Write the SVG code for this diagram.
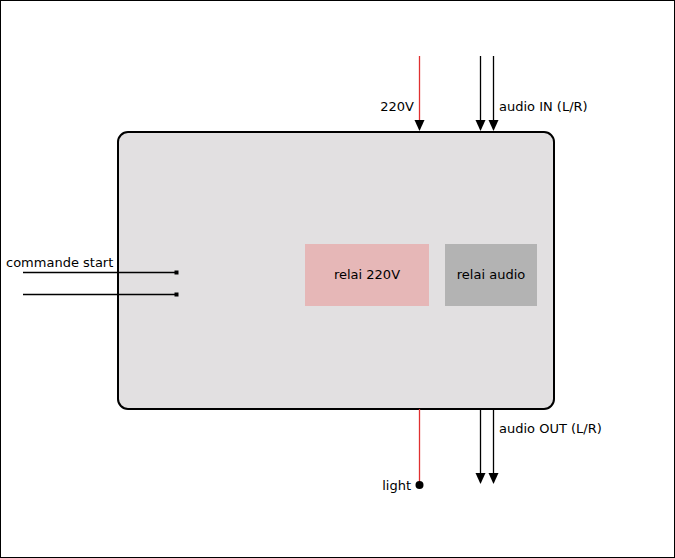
<svg xmlns="http://www.w3.org/2000/svg" width="675" height="558" viewBox="0 0 675 558">
<style>
text{font-family:"DejaVu Sans",sans-serif;font-size:13px;fill:#000}
.w{stroke:#000;stroke-width:1.3;fill:none}
.r{stroke:#e03030;stroke-width:1.3;fill:none}
</style>
<defs>
<marker id="ah" markerUnits="userSpaceOnUse" markerWidth="10" markerHeight="12" refX="5" refY="11" orient="auto-start-reverse" viewBox="0 0 10 12">
<path d="M0,0 L10,0 L5,11 Z" fill="#000" transform="rotate(0)"/>
</marker>
<marker id="sq" markerUnits="userSpaceOnUse" markerWidth="5" markerHeight="5" refX="2.5" refY="2.5" viewBox="0 0 5 5">
<rect x="0" y="0" width="5" height="5" fill="#000"/>
</marker>
</defs>
<rect x="0.5" y="0.5" width="674" height="557" fill="#fff" stroke="#000" stroke-width="1"/>
<g id="box">
<rect x="118" y="132" width="436" height="277" rx="10" fill="#e2e0e1" stroke="#000" stroke-width="2"/>
</g>
<g id="relai220">
<rect x="305" y="244" width="124" height="62" fill="#e6b7b7"/>
<text x="367" y="279" text-anchor="middle">relai 220V</text>
</g>
<g id="relaiaudio">
<rect x="445" y="244" width="92" height="62" fill="#b3b3b3"/>
<text x="491" y="279" text-anchor="middle">relai audio</text>
</g>
<g id="connectors">
<path class="r" d="M419.5,56 V121"/>
<path d="M414.5,120 L424.5,120 L419.5,131 Z" fill="#000"/>
<path class="w" d="M480.5,56 V121"/>
<path d="M475.5,120 L485.5,120 L480.5,131 Z" fill="#000"/>
<path class="w" d="M493.5,56 V121"/>
<path d="M488.5,120 L498.5,120 L493.5,131 Z" fill="#000"/>
<path class="r" d="M419.5,409 V485"/>
<circle cx="419.5" cy="485" r="4" fill="#000"/>
<path class="w" d="M480.5,409 V474"/>
<path d="M475.5,473 L485.5,473 L480.5,484 Z" fill="#000"/>
<path class="w" d="M493.5,409 V474"/>
<path d="M488.5,473 L498.5,473 L493.5,484 Z" fill="#000"/>
<path class="w" d="M23,272.5 H177"/>
<rect x="174.5" y="270.5" width="4" height="4" fill="#000"/>
<path class="w" d="M23,294.5 H177"/>
<rect x="174.5" y="292.5" width="4" height="4" fill="#000"/>
</g>
<g id="labels">
<text x="414" y="111" text-anchor="end">220V</text>
<text x="499" y="111">audio IN (L/R)</text>
<text x="499" y="433">audio OUT (L/R)</text>
<text x="411" y="490" text-anchor="end">light</text>
<text x="6" y="267">commande start</text>
</g>
</svg>
